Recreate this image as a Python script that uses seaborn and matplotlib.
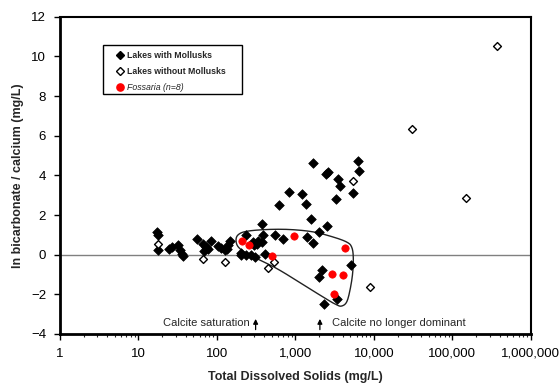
import numpy as np
import pandas as pd
import matplotlib
matplotlib.use("Agg")
import matplotlib.pyplot as plt
from matplotlib.lines import Line2D
from matplotlib.patches import Rectangle
from matplotlib.ticker import FuncFormatter, LogLocator, NullFormatter
import seaborn as sns

# ---- data ----
with_tds = [17.1, 17.9, 17.9, 24.7, 26.4, 32, 33.8, 35.5, 37.2, 55,
            67, 72, 69, 77, 84, 104, 114, 126, 139, 146, 135,
            201, 205, 237, 272, 303, 232, 290, 325, 298, 336, 371, 388, 408,
            371, 550, 700,
            622, 819, 1211, 1360, 1575, 1390, 1656, 1974, 2494,
            1686, 2427, 2620, 3445, 3725, 3280, 5350, 6250, 6500,
            5140, 2193, 1974, 3380, 2330]
with_ln = [1.15, 0.98, 0.22, 0.31, 0.39, 0.47, 0.22, 0.05, -0.08, 0.79,
           0.53, 0.39, 0.19, 0.31, 0.68, 0.44, 0.34, 0.26, 0.47, 0.68, 0.31,
           0.11, 0.0, -0.03, 0.0, -0.11, 0.98, 0.64, 0.55, 0.47, 0.68, 0.64, 0.98, 0.05,
           1.56, 1.01, 0.78,
           2.53, 3.14, 3.08, 2.56, 1.80, 0.89, 0.59, 1.17, 1.47,
           4.63, 4.08, 4.18, 3.82, 3.47, 2.81, 3.12, 4.75, 4.21,
           -0.54, -0.77, -1.13, -2.24, -2.47]

without_tds = [17.9, 67, 127, 442, 537, 5460, 8890, 30500, 147000, 372000]
without_ln = [0.56, -0.2, -0.35, -0.66, -0.37, 3.71, -1.63, 6.33, 2.86, 10.52]

fossaria_tds = [206, 259, 950, 497, 4230, 2916, 4030, 3090]
fossaria_ln = [0.68, 0.48, 0.95, -0.05, 0.34, -0.99, -1.0, -2.0]

# outline enclosing Fossaria lakes (TDS, ln ratio)
outline_tds = [239, 187, 175, 187, 239, 430, 851, 1686, 3033, 4490, 5200, 5460,
               5350, 4950, 4490, 3880, 3320, 2260, 635, 321]
outline_ln = [0.06, 0.39, 0.73, 1.01, 1.18, 1.27, 1.27, 1.15, 0.89, 0.64, 0.39, -0.12,
              -0.96, -1.80, -2.39, -2.59, -2.52, -2.14, -0.79, -0.2]

x_ticks = [1, 10, 100, 1000, 10000, 100000, 1000000]
y_ticks = [-4, -2, 0, 2, 4, 6, 8, 10, 12]

legend_labels = ["Lakes with Mollusks", "Lakes without Mollusks", "Fossaria (n=8)"]
annot_sat = ("Calcite saturation", 311)
annot_dom = ("Calcite no longer dominant", 2050)

# ---- plot ----
sns.set_theme(style="white")
plt.rcParams['font.family'] = ['Liberation Sans', 'DejaVu Sans']

fig = plt.figure(figsize=(5.6, 3.83), dpi=100)
ax = fig.add_axes([0.1071, 0.128, 0.948 - 0.1071, 0.956 - 0.128])

ax.set_xscale("log")
ax.set_xlim(1, 1e6)
ax.set_ylim(-4, 12)

# zero line
ax.axhline(0, color="#808080", lw=1.0, zorder=1)

# smooth closed outline (Catmull-Rom in log-x space)
lx = np.log10(np.array(outline_tds, dtype=float))
ly = np.array(outline_ln, dtype=float)
n = len(lx)
cx, cy = [], []
for i in range(n):
    p0 = np.array([lx[(i - 1) % n], ly[(i - 1) % n]])
    p1 = np.array([lx[i], ly[i]])
    p2 = np.array([lx[(i + 1) % n], ly[(i + 1) % n]])
    p3 = np.array([lx[(i + 2) % n], ly[(i + 2) % n]])
    for t in np.linspace(0, 1, 12, endpoint=False):
        t2, t3 = t * t, t * t * t
        p = 0.5 * ((2 * p1) + (-p0 + p2) * t + (2 * p0 - 5 * p1 + 4 * p2 - p3) * t2
                   + (-p0 + 3 * p1 - 3 * p2 + p3) * t3)
        cx.append(p[0]); cy.append(p[1])
cx.append(cx[0]); cy.append(cy[0])
ax.plot(10 ** np.array(cx), cy, color="#222222", lw=1.0, zorder=2)

df_with = pd.DataFrame({"tds": with_tds, "ln": with_ln})
df_without = pd.DataFrame({"tds": without_tds, "ln": without_ln})
df_fos = pd.DataFrame({"tds": fossaria_tds, "ln": fossaria_ln})

sns.scatterplot(data=df_with, x="tds", y="ln", ax=ax, marker="D", s=24,
                color="black", edgecolor="black", linewidth=0.5, zorder=3)
sns.scatterplot(data=df_without, x="tds", y="ln", ax=ax, marker="D", s=16,
                facecolor="white", edgecolor="black", linewidth=1.0, zorder=3)
sns.scatterplot(data=df_fos, x="tds", y="ln", ax=ax, marker="o", s=28,
                color="#ff0000", edgecolor="#ff0000", linewidth=0.5, zorder=4)

# axes styling
for sp in ax.spines.values():
    sp.set_color("black")
    sp.set_linewidth(1.5)
ax.spines["left"].set_linewidth(2.0)
ax.spines["bottom"].set_linewidth(2.0)

ax.set_xticks(x_ticks)
ax.xaxis.set_major_formatter(FuncFormatter(lambda v, p: f"{int(round(v)):,}"))
ax.xaxis.set_minor_locator(LogLocator(base=10, subs=np.arange(2, 10), numticks=20))
ax.xaxis.set_minor_formatter(NullFormatter())
ax.set_yticks(y_ticks)
ax.tick_params(axis="both", which="major", direction="out", length=4, width=1.0,
               labelsize=9.5, colors="black", bottom=True, left=True, pad=6)
ax.tick_params(axis="x", which="minor", direction="out", length=2.5, width=0.8,
               bottom=True)

ax.set_xlabel("Total Dissolved Solids (mg/L)", fontsize=9, fontweight="bold", labelpad=8)
ax.set_ylabel("ln bicarbonate / calcium (mg/L)", fontsize=9, fontweight="bold", labelpad=5)

# annotations
ax.annotate("", xy=(annot_sat[1], -3.1), xytext=(annot_sat[1], -3.92),
            arrowprops=dict(arrowstyle="-|>", color="black", lw=0.9, mutation_scale=7))
ax.text(264, -3.46, annot_sat[0], ha="right", va="center", fontsize=8)
ax.annotate("", xy=(annot_dom[1], -3.1), xytext=(annot_dom[1], -3.92),
            arrowprops=dict(arrowstyle="-|>", color="black", lw=0.9, mutation_scale=7))
ax.text(2890, -3.46, annot_dom[0], ha="left", va="center", fontsize=8)

# legend (frame drawn separately for its wide horizontal padding)
ax.add_patch(Rectangle((0.092, 0.756), 0.294, 0.155, transform=ax.transAxes,
                       facecolor="white", edgecolor="black", lw=1.0, zorder=5))
handles = [
    Line2D([], [], marker="D", ls="", color="black", markersize=4.5),
    Line2D([], [], marker="D", ls="", markerfacecolor="white", markeredgecolor="black",
           markersize=4.0, markeredgewidth=1.0),
    Line2D([], [], marker="o", ls="", color="#ff0000", markersize=5.2),
]
leg = ax.legend(handles, legend_labels, loc="upper left", bbox_to_anchor=(0.121, 0.892),
                frameon=False, fontsize=6.3,
                handlelength=0.8, handletextpad=0.3, labelspacing=0.8,
                borderpad=0, borderaxespad=0)
leg.set_zorder(6)
texts = leg.get_texts()
texts[0].set_fontweight("bold")
texts[1].set_fontweight("bold")
texts[2].set_fontstyle("italic")

fig.savefig("out.png", dpi=100, facecolor="white")
